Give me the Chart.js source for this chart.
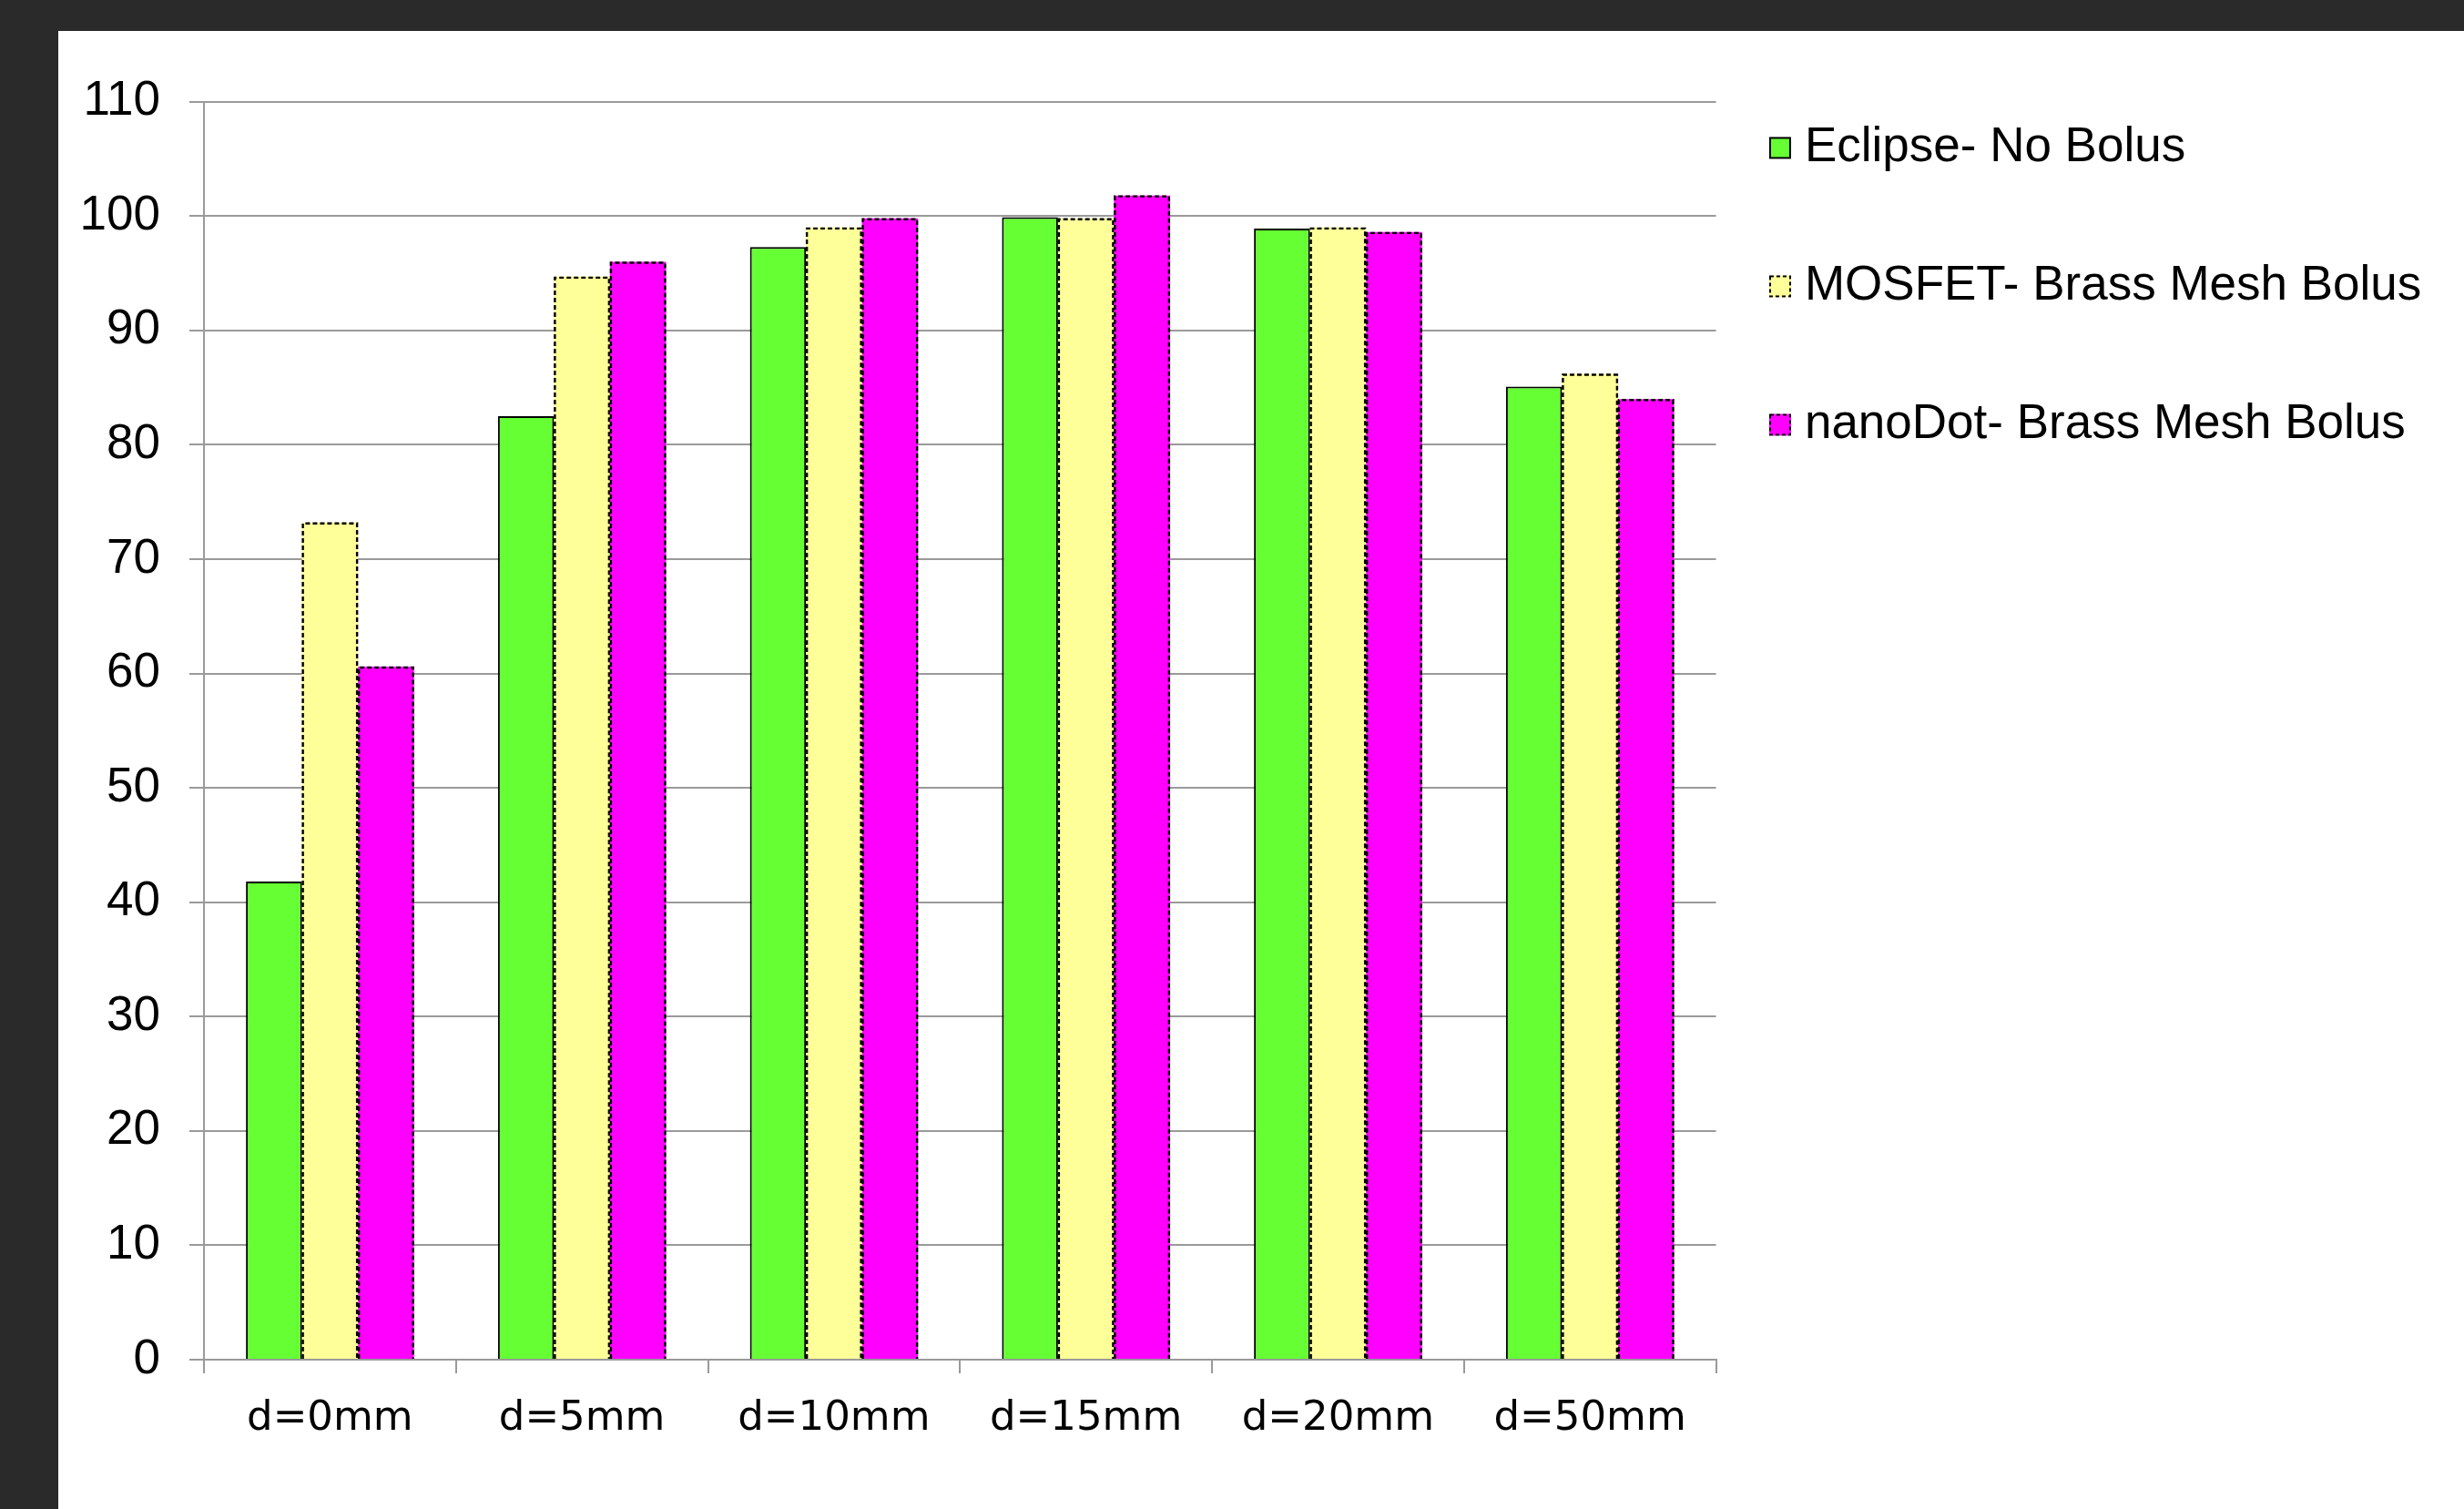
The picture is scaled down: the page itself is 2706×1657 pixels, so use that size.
<!DOCTYPE html>
<html><head><meta charset="utf-8">
<script src="https://cdn.jsdelivr.net/npm/chart.js@4.4.1/dist/chart.umd.min.js"></script>
<style>
html,body{margin:0;padding:0;width:2706px;height:1657px;overflow:hidden;background:#2a2a2a;}
#panel{position:absolute;left:64px;top:34px;right:0;bottom:0;background:#ffffff;}
#c{position:absolute;left:0;top:0;}
</style></head><body>
<div id="panel"></div>
<canvas id="c" width="2706" height="1657"></canvas>
<script>
// ---- data ----
const categories = ['d=0mm', 'd=5mm', 'd=10mm', 'd=15mm', 'd=20mm', 'd=50mm'];
const seriesNames = ['Eclipse- No Bolus', 'MOSFET- Brass Mesh Bolus', 'nanoDot- Brass Mesh Bolus'];
const eclipseNoBolus = [41.8, 82.5, 97.3, 99.9, 98.9, 85.1];
const mosfetBrassMesh = [73.2, 94.7, 99.0, 99.8, 99.0, 86.2];
const nanoDotBrassMesh = [60.6, 96.0, 99.8, 101.8, 98.6, 84.0];
const yMin = 0, yMax = 110, yStep = 10;

// ---- styles ----
const colors = ['#66FF33', '#FFFF99', '#FF00FF'];
const dashed = [false, true, true];
const gridColor = '#9a9a9a';

function swatch(fill, isDashed) {
  const c = document.createElement('canvas');
  c.width = 26; c.height = 26;
  const g = c.getContext('2d');
  g.fillStyle = fill; g.fillRect(1, 1, 24, 24);
  g.strokeStyle = '#000'; g.lineWidth = 2;
  if (isDashed) g.setLineDash([4, 3]);
  g.strokeRect(2, 2, 22, 22);
  return c;
}
const swatches = colors.map((c, i) => swatch(c, dashed[i]));

const dashedBorders = {
  id: 'dashedBorders',
  afterDatasetsDraw(chart) {
    const ctx = chart.ctx;
    ctx.save();
    ctx.strokeStyle = '#000';
    ctx.lineWidth = 2.4;
    ctx.setLineDash([5, 3]);
    chart.data.datasets.forEach((ds, di) => {
      if (!dashed[di]) return;
      chart.getDatasetMeta(di).data.forEach(el => {
        const p = el.getProps(['x', 'y', 'base', 'width'], true);
        const l = p.x - p.width / 2 + 1, r = p.x + p.width / 2 - 1, t = p.y + 1;
        ctx.beginPath();
        ctx.moveTo(l, p.base); ctx.lineTo(l, t); ctx.lineTo(r, t); ctx.lineTo(r, p.base);
        ctx.stroke();
      });
    });
    ctx.restore();
  }
};

const seriesData = [eclipseNoBolus, mosfetBrassMesh, nanoDotBrassMesh];

new Chart(document.getElementById('c'), {
  type: 'bar',
  data: {
    labels: categories,
    datasets: seriesNames.map((name, i) => ({
      label: name,
      data: seriesData[i],
      backgroundColor: colors[i],
      borderColor: '#000',
      borderWidth: dashed[i] ? 0 : 2,
      borderSkipped: 'start',
      categoryPercentage: 3 / 4.5,
      barPercentage: 1.0
    }))
  },
  options: {
    responsive: false,
    animation: false,
    devicePixelRatio: 1,
    layout: { padding: { left: 64, top: 66, right: 36.7, bottom: 64 } },
    plugins: {
      tooltip: { enabled: false },
      title: {
        display: true, text: '', position: 'top', fullSize: false,
        padding: { top: 0, bottom: 0 },
        font: { size: 10, lineHeight: '45.7px' }
      },
      legend: {
        position: 'right',
        align: 'start',
        maxWidth: 1000,
        labels: {
          usePointStyle: true,
          pointStyleWidth: 1,
          padding: 69.9,
          color: '#000',
          font: { family: 'Liberation Sans', size: 53, lineHeight: '82.1px' },
          generateLabels(chart) {
            const items = Chart.defaults.plugins.legend.labels.generateLabels(chart);
            return items.map((it, i) => Object.assign({}, it, { text: [it.text], pointStyle: swatches[i] }));
          }
        }
      }
    },
    scales: {
      x: {
        grid: { display: true, drawOnChartArea: false, drawTicks: true, tickLength: 15, color: gridColor, lineWidth: 2, offset: true },
        border: { display: true, color: gridColor, width: 2 },
        ticks: { color: '#000', padding: 23, font: { family: 'DejaVu Sans', size: 45, lineHeight: 1.2 } },
        afterFit(scale) { scale.height = 100; }
      },
      y: {
        min: yMin, max: yMax,
        grid: { color: gridColor, lineWidth: 2, tickLength: 16, drawTicks: true },
        border: { display: true, color: gridColor, width: 2 },
        ticks: { stepSize: yStep, color: '#000', padding: 32, font: { family: 'Liberation Sans', size: 53 } },
        afterFit(scale) { scale.width = 160; }
      }
    }
  },
  plugins: [dashedBorders]
});
</script>
</body></html>
